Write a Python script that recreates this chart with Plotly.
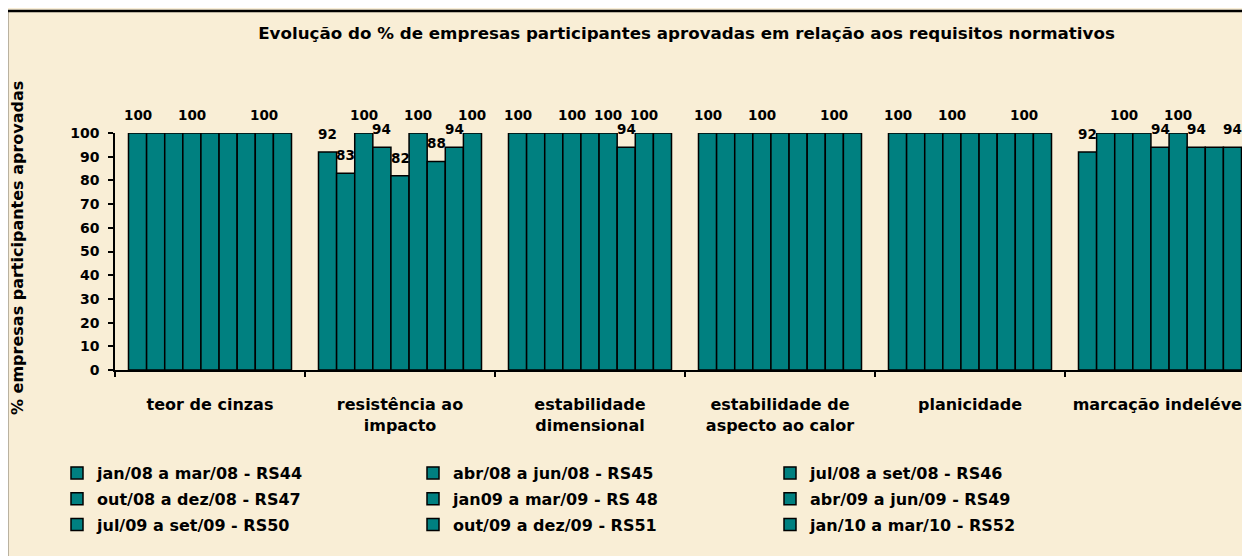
import plotly.graph_objects as go

# ---------------- data ----------------
categories = ["teor de cinzas", "resistência ao<br>impacto", "estabilidade<br>dimensional",
              "estabilidade de<br>aspecto ao calor", "planicidade", "marcação indelével"]

series_names = ["jan/08 a mar/08 - RS44", "abr/08 a jun/08 - RS45", "jul/08 a set/08 - RS46",
                "out/08 a dez/08 - RS47", "jan09 a mar/09 - RS 48", "abr/09 a jun/09 - RS49",
                "jul/09 a set/09 - RS50", "out/09 a dez/09 - RS51", "jan/10 a mar/10 - RS52"]

rs44 = [100, 92, 100, 100, 100, 92]
rs45 = [100, 83, 100, 100, 100, 100]
rs46 = [100, 100, 100, 100, 100, 100]
rs47 = [100, 94, 100, 100, 100, 100]
rs48 = [100, 82, 100, 100, 100, 94]
rs49 = [100, 100, 100, 100, 100, 100]
rs50 = [100, 88, 94, 100, 100, 94]
rs51 = [100, 94, 100, 100, 100, 94]
rs52 = [100, 100, 100, 100, 100, 94]
series_values = [rs44, rs45, rs46, rs47, rs48, rs49, rs50, rs51, rs52]

# which series carry a visible data label, per category
labeled_series = [
    [0, 3, 7],
    [0, 1, 2, 3, 4, 5, 6, 7, 8],
    [0, 3, 5, 6, 7],
    [0, 3, 7],
    [0, 3, 7],
    [0, 2, 4, 5, 6, 8],
]

y_ticks = list(range(0, 101, 10))

title_text = "Evolução do % de empresas participantes aprovadas em relação aos requisitos normativos"
y_title = "% empresas participantes aprovadas"

# ---------------- style ----------------
OFF = 8  # page body margin
W, H = 1250, 556
ML = 115 - OFF
MT = 133 - OFF
MB = H - (370 - OFF)
MR = 0
PW, PH = W - ML - MR, H - MT - MB
BARGAP = 0.142
TEAL = "#008080"
BG = "#F9EED6"
FONT = "DejaVu Sans"


def px_to_paper_x(px):  # px: screen pixel
    return (px - OFF - ML) / PW


def px_to_paper_y(py):  # py: screen pixel
    return (H - MB - (py - OFF)) / PH


n_series = len(series_values)
legend_keys = ["legend", "legend2", "legend3"]

fig = go.Figure()
for j, (name, vals) in enumerate(zip(series_names, series_values)):
    fig.add_trace(go.Bar(
        x=categories, y=vals, name=name,
        marker=dict(color=TEAL, line=dict(color="black", width=1.5)),
        legend=legend_keys[j % 3], legendgroup="g%d" % j,
        cliponaxis=False,
    ))

# data labels from the values
slot = (1 - BARGAP) / n_series
annotations = []
for i, idxs in enumerate(labeled_series):
    for j in idxs:
        v = series_values[j][i]
        annotations.append(dict(
            x=i + (j - (n_series - 1) / 2) * slot, y=v, xref="x", yref="y",
            text=str(v), showarrow=False, yanchor="middle", yshift=18,
            font=dict(family=FONT, size=13.5, color="black", weight="bold"),
        ))

annotations.append(dict(
    x=px_to_paper_x(17), y=px_to_paper_y(248), xref="paper", yref="paper",
    text=y_title, textangle=-90, showarrow=False, xanchor="center", yanchor="middle",
    font=dict(family=FONT, size=16, color="black", weight="bold"),
))

legend_common = dict(
    orientation="v", yanchor="top", y=px_to_paper_y(456),
    bgcolor="rgba(0,0,0,0)", tracegroupgap=2, xanchor="left",
    font=dict(family=FONT, size=16, color="black", weight="bold"),
)

fig.update_layout(
    width=W, height=H,
    margin=dict(l=ML, r=MR, t=MT, b=MB),
    paper_bgcolor=BG, plot_bgcolor="rgba(0,0,0,0)",
    font=dict(family=FONT, color="black", weight="bold"),
    barmode="group", bargap=BARGAP, bargroupgap=0,
    title=dict(text=title_text, x=0.5, xref="paper", xanchor="center",
               y=1 - (33 - OFF) / H, yref="container", yanchor="middle",
               font=dict(family=FONT, size=16.7, color="black", weight="bold")),
    xaxis=dict(
        type="category", categoryorder="array", categoryarray=categories,
        tickson="boundaries",
        range=[-0.5, -0.5 + PW / 190.0], showline=True, linecolor="black", linewidth=1.5,
        ticks="outside", ticklen=5, tickcolor="black", tickwidth=1.5,
        showgrid=False, zeroline=False, ticklabelstandoff=19,
        tickfont=dict(family=FONT, size=16, color="black", weight="bold"),
    ),
    yaxis=dict(
        range=[0, 100], tickvals=y_ticks, showline=True, linecolor="black", linewidth=1.5,
        ticks="outside", ticklen=5, tickcolor="black", tickwidth=1.5,
        showgrid=False, zeroline=False, ticklabelstandoff=6,
        tickfont=dict(family=FONT, size=14, color="black", weight="bold"),
    ),
    legend=dict(legend_common, x=px_to_paper_x(57)),
    legend2=dict(legend_common, x=px_to_paper_x(413)),
    legend3=dict(legend_common, x=px_to_paper_x(770)),
    annotations=annotations,
    shapes=[dict(type="rect", xref="paper", yref="paper",
                 x0=px_to_paper_x(7), x1=1.2, y0=-1.2, y1=px_to_paper_y(11),
                 line=dict(color="black", width=2.5), fillcolor="rgba(0,0,0,0)", layer="below")],
)

fig.write_html("out.html")
